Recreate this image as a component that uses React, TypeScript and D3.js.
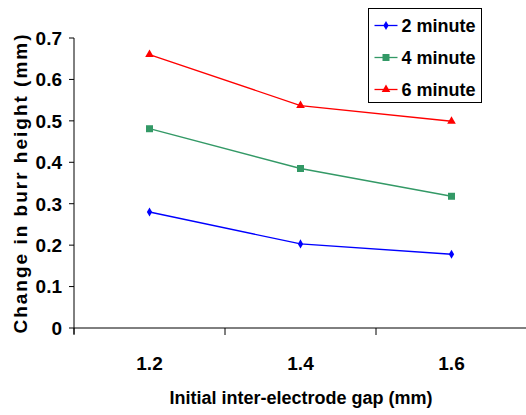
import * as d3 from 'd3';

const WIDTH = 526;
const HEIGHT = 415;
const MARGINS = { top: 38, right: -1, bottom: 87, left: 74 };

const gaps = ['1.2', '1.4', '1.6'];
const yTicks = [0, 0.1, 0.2, 0.3, 0.4, 0.5, 0.6, 0.7];
const twoMinute = [0.28, 0.203, 0.178];
const fourMinute = [0.481, 0.385, 0.318];
const sixMinute = [0.66, 0.537, 0.499];

const seriesNames = ['2 minute', '4 minute', '6 minute'];
const seriesColors = ['#0000ff', '#339966', '#ff0000'];
const seriesValues = [twoMinute, fourMinute, sixMinute];
const markerTypes = [d3.symbolDiamond, d3.symbolSquare, d3.symbolTriangle];
const markerSizes = [24, 49, 32];

const FONT = 'Liberation Sans, Arial, sans-serif';

export default function App() {
  const x = d3
    .scaleBand()
    .domain(gaps)
    .range([MARGINS.left, WIDTH - MARGINS.right])
    .padding(0);
  const y = d3
    .scaleLinear()
    .domain([0, 0.7])
    .range([HEIGHT - MARGINS.bottom, MARGINS.top]);
  const cx = (g: string) => (x(g) ?? 0) + x.bandwidth() / 2;

  const line = d3
    .line<number>()
    .x((_, i) => cx(gaps[i]))
    .y((v) => y(v));

  const x0 = MARGINS.left;
  const y0 = y(0);
  const boundaries = [...gaps.map((g) => x(g) ?? 0), WIDTH - MARGINS.right];

  return (
    <div>
      <style>{`body { margin: 0; }`}</style>
      <svg width={WIDTH} height={HEIGHT} style={{ display: 'block', background: '#fff' }}>
        {/* y axis */}
        <line x1={x0} x2={x0} y1={y(0.7)} y2={y0 + 6} stroke='#000' />
        {yTicks.map((t) => (
          <g key={t}>
            <line x1={x0 - 5} x2={x0} y1={y(t)} y2={y(t)} stroke='#000' />
            <text
              x={x0 - 12}
              y={y(t)}
              dy='0.36em'
              textAnchor='end'
              fontFamily={FONT}
              fontWeight='bold'
              fontSize={19}
            >
              {t === 0 ? '0' : d3.format('.1f')(t)}
            </text>
          </g>
        ))}
        {/* x axis */}
        <line x1={x0} x2={WIDTH} y1={y0} y2={y0} stroke='#000' />
        {boundaries.map((b, i) => (
          <line key={i} x1={b} x2={b} y1={y0} y2={y0 + 7} stroke='#000' />
        ))}
        {gaps.map((g) => (
          <text
            key={g}
            x={cx(g)}
            y={y0 + 42}
            textAnchor='middle'
            fontFamily={FONT}
            fontWeight='bold'
            fontSize={19}
          >
            {g}
          </text>
        ))}
        <text
          x={301}
          y={404}
          textAnchor='middle'
          fontFamily={FONT}
          fontWeight='bold'
          fontSize={18}
        >
          Initial inter-electrode gap (mm)
        </text>
        <text
          transform={`translate(27,${(y(0) + y(0.7)) / 2}) rotate(-90)`}
          textAnchor='middle'
          fontFamily={FONT}
          fontWeight='bold'
          fontSize={19}
          letterSpacing={2}
        >
          Change in burr height (mm)
        </text>

        {/* series */}
        {seriesValues.map((vals, si) => (
          <g key={seriesNames[si]}>
            <path d={line(vals) ?? ''} fill='none' stroke={seriesColors[si]} strokeWidth={1.3} />
            {vals.map((v, i) => (
              <path
                key={i}
                transform={`translate(${cx(gaps[i])},${y(v)})`}
                d={d3.symbol(markerTypes[si], markerSizes[si])() ?? ''}
                fill={seriesColors[si]}
              />
            ))}
          </g>
        ))}

        {/* legend */}
        <g transform='translate(368.5,8.5)'>
          <rect width={113} height={94} fill='#fff' stroke='#000' />
          {seriesNames.map((name, i) => (
            <g key={name} transform={`translate(0,${17 + i * 32})`}>
              <line x1={6} x2={29} y1={0} y2={0} stroke={seriesColors[i]} strokeWidth={1.3} />
              <path
                transform='translate(17.5,0)'
                d={d3.symbol(markerTypes[i], markerSizes[i])() ?? ''}
                fill={seriesColors[i]}
              />
              <text
                x={33}
                y={0}
                dy='0.36em'
                fontFamily={FONT}
                fontWeight='bold'
                fontSize={18}
              >
                {name}
              </text>
            </g>
          ))}
        </g>
      </svg>
    </div>
  );
}
